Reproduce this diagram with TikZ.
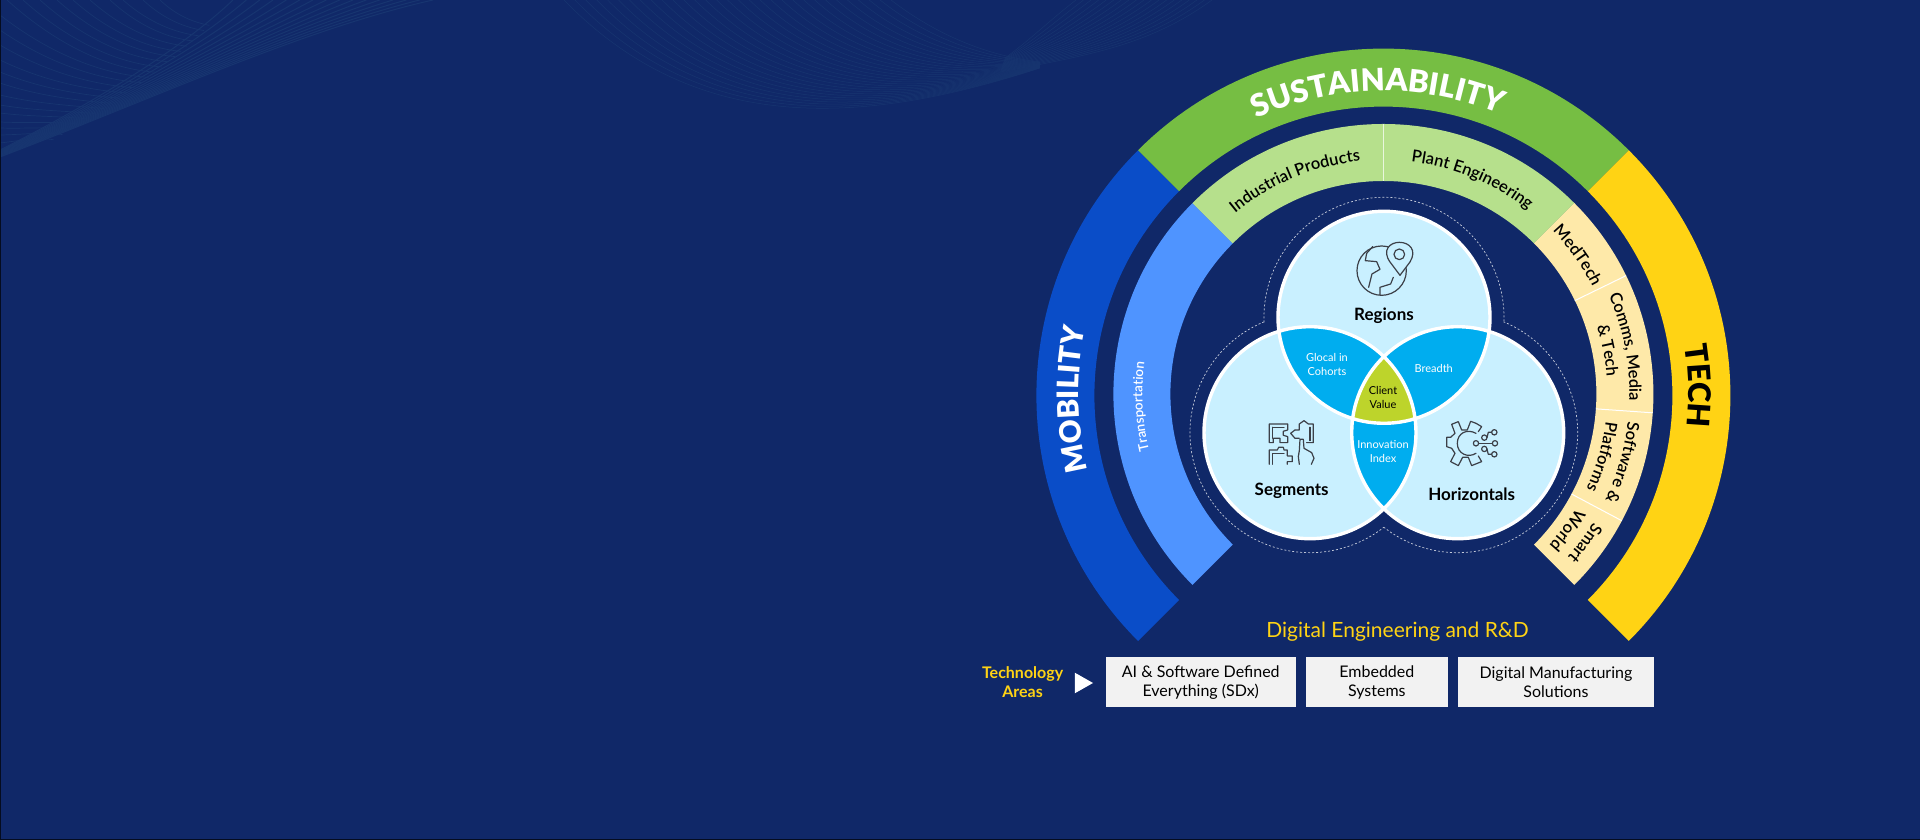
\documentclass[tikz,border=0pt]{standalone}
\usepackage{fontspec}
\setmainfont{Lato}
\newfontface\heavyfont{Lato Black}
\newfontface\semifont{Lato Semibold}
\newfontface\medfont{Lato Medium}
\usetikzlibrary{decorations.text,calc}

\definecolor{pagebg}{HTML}{102868}
\definecolor{wavecol}{HTML}{173570}
\definecolor{mobblue}{HTML}{0A4DC8}
\definecolor{transblue}{HTML}{4F94FF}
\definecolor{susgreen}{HTML}{76BE43}
\definecolor{indgreen}{HTML}{B6E08C}
\definecolor{techyellow}{HTML}{FFD314}
\definecolor{techcream}{HTML}{FEE9A9}
\definecolor{venncol}{HTML}{C9F0FF}
\definecolor{lenscol}{HTML}{00ADEF}
\definecolor{valuecol}{HTML}{BDD42B}
\definecolor{iconcol}{HTML}{3C4048}
\definecolor{boxcol}{HTML}{F2F2F2}

\newcommand{\ringsector}[6]{%
	\fill[#1] ([shift={(#3:#6)}]#2) arc[start angle=#3,end angle=#4,radius=#6]
		-- ([shift={(#4:#5)}]#2) arc[start angle=#4,end angle=#3,radius=#5] -- cycle;}
\newcommand{\ringtext}[6]{%
	\path[decorate,decoration={text along path,text align=center,text={|\color{#1}#2|#6}}]
		([shift={(#4:#3)}]ringb) arc[start angle=#4,end angle=#5,radius=#3];}
\newcommand{\wavefan}[2]{%
	\foreach \i in {0,...,#1}
	{
		\pgfmathsetmacro\t{\i/#1}
		\draw[wavecol, line width=#2] ($(lo0)!\t!(hi0)$) .. controls ($(lo1)!\t!(hi1)$) and ($(lo2)!\t!(hi2)$) .. ($(lo3)!\t!(hi3)$);
	}}

\tikzset{
	vennlabel/.style={font=\fontsize{17}{20}\selectfont\bfseries, text=black, inner sep=0pt},
	lenslabel/.style={font=\fontsize{11}{14}\selectfont, text=white, align=center, inner sep=0pt},
	techbox/.style={fill=boxcol, draw=none, font=\fontsize{16}{19}\selectfont, align=center,
		inner sep=0pt, outer sep=0pt, minimum height=50pt},
	iconline/.style={draw=iconcol, line width=1.2pt, line join=round, line cap=round},
}

\begin{document}
\begin{tikzpicture}[x=1pt,y=1pt]
	\useasboundingbox (0,0) rectangle (1920,840);
	\fill[pagebg] (0,0) rectangle (1920,840);

	% faint waves along the top
	\foreach \sx/\sy [count=\i] in {0/143,0/135,0/128,0/122,0/113,0/105,0/95,0/83,0/72,0/60,0/45,0/30,0/15,7/0,23/0,40/0,57/0,73/0,90/0,110/0,123/0,143/0,160/0}
	{
		\pgfmathsetmacro\ey{145-5.2*\i}
		\pgfmathsetmacro\ex{233-0.85*\ey-0.0031*\ey*\ey}
		\draw[wavecol, line width=0.7pt] (\sx,840-\sy) .. controls ({\sx+0.35*(\ex-\sx)},{840-\sy-0.65*(\ey-\sy)}) and ({\sx+0.7*(\ex-\sx)},{840-\ey+3}) .. (\ex,840-\ey);
	}
	\coordinate (lo0) at (0,683); \coordinate (lo1) at (150,740); \coordinate (lo2) at (300,810); \coordinate (lo3) at (433,840);
	\coordinate (hi0) at (0,690); \coordinate (hi1) at (60,720); \coordinate (hi2) at (170,780); \coordinate (hi3) at (233,840);
	\wavefan{15}{1pt}
	\coordinate (lo0) at (564,840); \coordinate (lo1) at (690,710); \coordinate (lo2) at (850,710); \coordinate (lo3) at (1040,772);
	\coordinate (hi0) at (891,840); \coordinate (hi1) at (930,810); \coordinate (hi2) at (980,785); \coordinate (hi3) at (1040,778);
	\wavefan{30}{0.5pt}
	\coordinate (lo0) at (1000,768); \coordinate (lo1) at (1090,785); \coordinate (lo2) at (1150,795); \coordinate (lo3) at (1212,840);
	\coordinate (hi0) at (1005,782); \coordinate (hi1) at (1030,800); \coordinate (hi2) at (1050,820); \coordinate (hi3) at (1076,840);
	\wavefan{18}{0.5pt}
	\draw[black!70!pagebg, line width=1pt] (0,0) rectangle (1920,840);

	\coordinate (ringa) at (1383.4,444.4);
	\coordinate (ringb) at (1383.4,446);
	\coordinate (regions) at (1384,522.7);
	\coordinate (segments) at (1310,407.3);
	\coordinate (horizontals) at (1457.7,407.3);

	% outer ring
	\ringsector{mobblue}{ringa}{135}{225}{289}{347}
	\ringsector{susgreen}{ringa}{45}{135}{289}{347}
	\ringsector{techyellow}{ringa}{-45}{45}{289}{347}

	% inner ring
	\ringsector{transblue}{ringb}{135}{225}{213}{270}
	\ringsector{indgreen}{ringb}{45}{135}{213}{270}
	\ringsector{techcream}{ringb}{-45}{45}{213}{270}
	\draw[white!70!indgreen, line width=1pt] ([shift={(90:213)}]ringb) -- ([shift={(90:270)}]ringb);
	\foreach \a in {26,-4,-28}
	{
		\draw[white, line width=1pt] ([shift={(\a:213)}]ringb) -- ([shift={(\a:270)}]ringb);
	}

	\ringtext{white}{\fontsize{31}{31}\heavyfont}{303}{141}{41}{SUSTAINABILITY}
	\ringtext{white}{\fontsize{29.5}{29.5}\heavyfont}{305}{226}{136}{MOBILITY}
	\ringtext{black}{\fontsize{31}{31}\heavyfont}{305}{45}{-42}{TECH}

	\ringtext{white}{\fontsize{13.5}{13.5}\semifont}{241}{225}{141}{Transportation}
	\ringtext{black}{\fontsize{16.5}{16.5}\semifont}{234}{134}{91}{Industrial Products}
	\ringtext{black}{\fontsize{16.5}{16.5}\semifont}{234}{89}{46}{Plant Engineering}
	\ringtext{black}{\fontsize{16.5}{16.5}\semifont}{235}{45}{26}{MedTech}
	\ringtext{black}{\fontsize{16.5}{16.5}\semifont}{246}{26}{-4}{Comms, Media}
	\ringtext{black}{\fontsize{16.5}{16.5}\semifont}{224}{26}{-4}{{\&} Tech}
	\ringtext{black}{\fontsize{16.5}{16.5}\semifont}{246}{-4}{-28}{Software {\&}}
	\ringtext{black}{\fontsize{16.5}{16.5}\semifont}{224}{-4}{-28}{Platforms}
	\ringtext{black}{\fontsize{16.5}{16.5}\semifont}{246}{-28}{-45}{Smart}
	\ringtext{black}{\fontsize{16.5}{16.5}\semifont}{224}{-28}{-45}{World}

	% dashed outline
	\draw[white!75!pagebg, line width=0.7pt, dash pattern=on 2pt off 2pt]
		([shift={(182.4:120)}]regions) arc[start angle=182.4,end angle=-2.4,radius=120];
	\draw[white!75!pagebg, line width=0.7pt, dash pattern=on 2pt off 2pt]
		([shift={(112.5:120)}]segments) arc[start angle=112.5,end angle=308,radius=120];
	\draw[white!75!pagebg, line width=0.7pt, dash pattern=on 2pt off 2pt]
		([shift={(231.9:120)}]horizontals) arc[start angle=231.9,end angle=427.5,radius=120];

	% venn
	\foreach \c in {regions,segments,horizontals}
	{
		\fill[venncol] (\c) circle[radius=106];
	}
	\begin{scope}
		\clip (regions) circle[radius=106];
		\fill[lenscol] (segments) circle[radius=106];
		\fill[lenscol] (horizontals) circle[radius=106];
	\end{scope}
	\begin{scope}
		\clip (segments) circle[radius=106];
		\fill[lenscol] (horizontals) circle[radius=106];
		\clip (horizontals) circle[radius=106];
		\fill[valuecol] (regions) circle[radius=106];
	\end{scope}
	\foreach \c in {regions,segments,horizontals}
	{
		\draw[white, line width=3.4pt] (\c) circle[radius=106];
	}

	\node[vennlabel] (regions_lbl) at (1384,524) {Regions};
	\node[vennlabel] (segments_lbl) at (1291.7,349.3) {Segments};
	\node[vennlabel] (horizontals_lbl) at (1471.7,345.3) {Horizontals};
	\node[lenslabel] (glocal) at (1327,475) {Glocal in\\Cohorts};
	\node[lenslabel] (breadth) at (1433.7,471) {Breadth};
	\node[lenslabel, text=black] (client) at (1383,442.3) {Client\\Value};
	\node[lenslabel] (innovation) at (1383,388) {Innovation\\Index};

	% icons, in pixels of the crop
	\begin{scope}[shift={(1180,640)},x=0.3333pt,y=-0.3333pt]
		% globe with pin
		\draw[iconline] (605,212) circle[radius=74];
		\draw[iconline] (578,140) -- (560,160) -- (556,182) -- (590,185) -- (600,208) -- (576,222) -- (566,262);
		\draw[iconline] (600,285) -- (600,262) -- (632,252) -- (640,232);
		\draw[iconline, fill=venncol] (660,226) -- (630,186) .. controls (605,150) and (630,127) .. (658,127) .. controls (688,127) and (712,150) .. (690,186) -- cycle;
		\draw[iconline] (658,163) circle[radius=16];
		% puzzle pieces and hand
		\draw[iconline] (268,672) -- (323,672) -- (323,690) -- (310,694) -- (310,706) -- (323,710) -- (323,728) -- (300,728) -- (300,715) -- (280,715) -- (280,728) -- (268,728) -- cycle;
		\draw[iconline] (278,682) -- (312,682);
		\draw[iconline] (278,682) -- (278,715);
		\draw[iconline] (345,690) -- (358,690) -- (358,672) -- (372,662) -- (385,672) -- (400,672) -- (400,728) -- (380,728);
		\draw[iconline] (345,690) -- (332,700) -- (345,715) -- (358,715);
		\draw[iconline] (390,682) -- (390,722);
		\draw[iconline] (268,793) -- (268,750) -- (292,750) -- (296,742) -- (310,742) -- (312,750) -- (322,750) -- (322,768) -- (337,768) -- (337,785) -- (322,785) -- (322,793);
		\draw[iconline] (278,793) -- (278,760) -- (312,760);
		\draw[iconline] (358,793) -- (355,770) -- (358,752) -- (360,718) -- (370,718) -- (372,745) -- (395,758) -- (402,775) -- (394,793);
		% gear with nodes
		\draw[iconline] (888,670) -- (872,664) -- (862,690) -- (845,690) -- (835,665) -- (815,673) -- (825,700) -- (812,712) -- (800,712) -- (800,740) -- (815,745) -- (825,760) -- (812,785) -- (835,797) -- (848,772) -- (865,772) -- (875,797) -- (905,785) -- (895,768);
		\draw[iconline] (888,700) .. controls (860,685) and (832,700) .. (832,730) .. controls (832,762) and (865,775) .. (888,760);
		\draw[iconline] (888,670) -- (905,680) -- (895,695);
		\foreach \x/\y in {943/697,945/730,943/763,913/713,888/730,913/747}
		{
			\draw[iconline] (\x,\y) circle[radius=8];
		}
		\draw[iconline] (896,730) -- (937,730);
		\draw[iconline] (921,713) -- (925,697) -- (935,697);
		\draw[iconline] (921,747) -- (925,763) -- (935,763);
	\end{scope}

	% bottom row
	\node[font=\fontsize{21}{24}\selectfont, text=techyellow, inner sep=0pt] (deng) at (1397.6,208.7) {Digital Engineering and R\&D};
	\node[font=\fontsize{16}{19}\selectfont\bfseries, text=techyellow, align=center, inner sep=0pt] (areas) at (1022.6,157.7) {Technology\\Areas};
	\fill[white] (1074.8,167.3) -- (1093,157) -- (1074.8,146.7) -- cycle;
	\node[techbox, minimum width=190.5pt] (ai) at (1200.75,157.7) {AI \& Software Defined\\Everything (SDx)};
	\node[techbox, minimum width=142.3pt] (embedded) at (1376.85,157.7) {Embedded\\Systems};
	\node[techbox, minimum width=196.9pt] (manuf) at (1555.95,157.7) {Digital Manufacturing\\Solutions};
\end{tikzpicture}
\end{document}
